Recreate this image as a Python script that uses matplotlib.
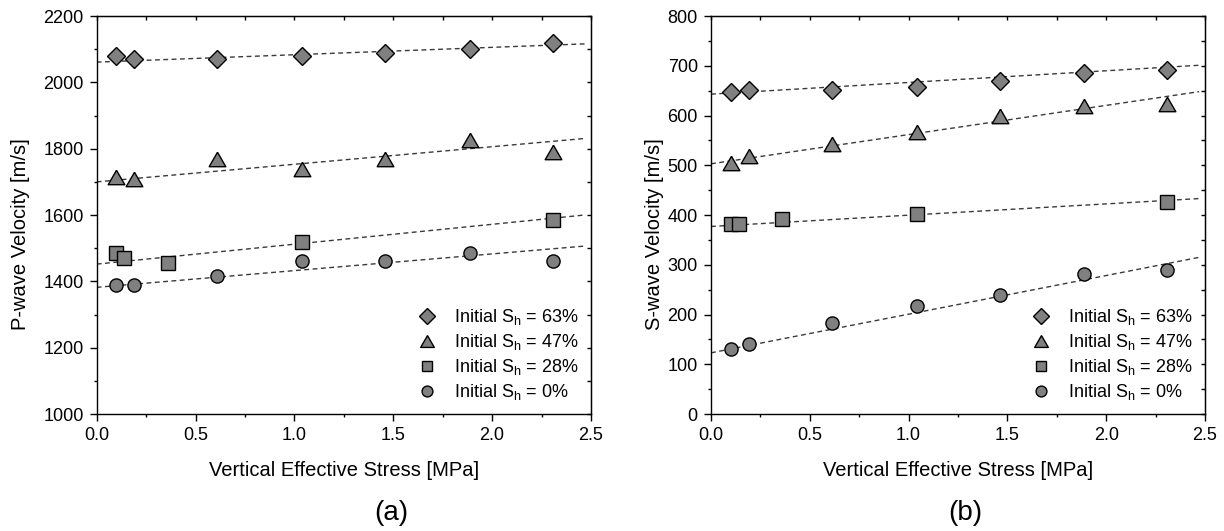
import numpy as np
import matplotlib
matplotlib.use('Agg')
import matplotlib.pyplot as plt
from matplotlib.ticker import MultipleLocator

plt.rcParams['font.family'] = ['Liberation Sans', 'DejaVu Sans']
plt.rcParams['mathtext.default'] = 'regular'

# vertical effective stress steps [MPa]
stress = [0.10, 0.19, 0.61, 1.04, 1.46, 1.89, 2.31]
stress_28 = [0.10, 0.14, 0.36, 1.04, 2.31]

sh_labels = ['63%', '47%', '28%', '0%']

# P-wave velocity [m/s]
vp_63 = [2080, 2070, 2070, 2080, 2090, 2100, 2120]
vp_47 = [1715, 1710, 1770, 1740, 1770, 1825, 1790]
vp_28 = [1485, 1470, 1455, 1520, 1585]
vp_0 = [1390, 1390, 1415, 1460, 1460, 1485, 1460]

# S-wave velocity [m/s]
vs_63 = [648, 651, 652, 657, 670, 685, 692]
vs_47 = [504, 519, 543, 567, 600, 620, 624]
vs_28 = [382, 382, 392, 402, 426]
vs_0 = [130, 140, 182, 218, 240, 282, 289]

# linear trend lines: (intercept, slope)
vp_fit = [(2061, 22.3), (1700, 53.0), (1452, 60.0), (1382, 50.4)]
vs_fit = [(643, 23.5), (503, 58.7), (377, 22.7), (123, 77.7)]

TRI = [(0, 0.433), (-0.5, -0.433), (0.5, -0.433), (0, 0.433)]
MARKERS = [('D', 9.5), (TRI, 12.0), ('s', 9.5), ('o', 9.5)]
FACE = '#808080'


def draw_panel(ax, xs, ys, fits, y_lim, y_major, y_minor, y_label):
    """
        Scatter of the four hydrate saturations plus dashed trends.
    """
    x_line = np.array([0.0, 2.47])
    for (b, m) in fits:
        ax.plot(x_line, b + m * x_line, ls=(0, (3.5, 2.5)), lw=1.0,
                color='#3a3a3a', zorder=2)

    for x, y, (mk, ms), lab in zip(xs, ys, MARKERS, sh_labels):
        ax.plot(x, y, ls='none', marker=mk, ms=ms, mfc=FACE, mec='black',
                mew=1.0, zorder=3, label='Initial S$_h$ = ' + lab)

    ax.set_xlim(0, 2.5)
    ax.set_ylim(*y_lim)
    ax.xaxis.set_major_locator(MultipleLocator(0.5))
    ax.xaxis.set_minor_locator(MultipleLocator(0.25))
    ax.yaxis.set_major_locator(MultipleLocator(y_major))
    ax.yaxis.set_minor_locator(MultipleLocator(y_minor))
    ax.tick_params(which='both', direction='out', width=1.0,
                   labelsize=13, pad=4.5)
    ax.tick_params(which='major', length=5)
    ax.tick_params(which='minor', length=2.5)
    for sp in ax.spines.values():
        sp.set_linewidth(1.0)

    # mirrored ticks pointing inward on top and right
    top = ax.secondary_xaxis('top')
    top.xaxis.set_major_locator(MultipleLocator(0.25))
    top.tick_params(direction='in', length=3, width=1.0, labeltop=False)
    right = ax.secondary_yaxis('right')
    right.yaxis.set_major_locator(MultipleLocator(y_minor))
    right.tick_params(direction='in', length=3, width=1.0, labelright=False)

    ax.set_xlabel('Vertical Effective Stress [MPa]', fontsize=14.5)
    ax.set_ylabel(y_label, fontsize=14.5)
    ax.xaxis.label.set_va('center')
    ax.xaxis.set_label_coords(0.5, -0.141)
    ax.yaxis.label.set_va('center')

    ax.legend(loc='lower right', bbox_to_anchor=(0.99, 0.012),
              frameon=False, fontsize=13, markerscale=0.82,
              handlelength=1.0, handletextpad=1.0, labelspacing=0.28,
              borderaxespad=0)


fig = plt.figure(figsize=(12.24, 5.31), dpi=100)
ax_p = fig.add_axes([0.0790, 0.2203, 0.4038, 0.7495])
ax_s = fig.add_axes([0.5809, 0.2203, 0.4036, 0.7495])

draw_panel(ax_p, [stress, stress, stress_28, stress],
           [vp_63, vp_47, vp_28, vp_0], vp_fit,
           (1000, 2200), 200, 100, 'P-wave Velocity [m/s]')
ax_p.yaxis.set_label_coords(-0.155, 0.452)

draw_panel(ax_s, [stress, stress, stress_28, stress],
           [vs_63, vs_47, vs_28, vs_0], vs_fit,
           (0, 800), 100, 50, 'S-wave Velocity [m/s]')
ax_s.yaxis.set_label_coords(-0.115, 0.452)

fig.text(391 / 1224, 1 - 512.7 / 531, '(a)', ha='center', va='center',
         fontsize=20)
fig.text(965 / 1224, 1 - 512.7 / 531, '(b)', ha='center', va='center',
         fontsize=20)

fig.savefig('out.png', dpi=100)
